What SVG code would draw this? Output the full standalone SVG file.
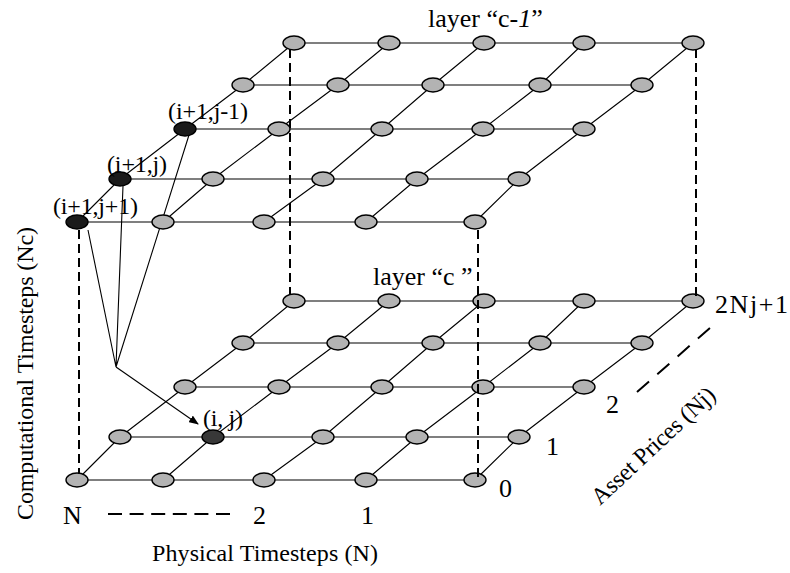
<svg xmlns="http://www.w3.org/2000/svg" width="790" height="573" viewBox="0 0 790 573">
<defs>
<style>
.n{fill:#b3b3b3;stroke:#000;stroke-width:1.4}
.d{fill:#1a1a1a;stroke:#000;stroke-width:1.4}
.dm{fill:#383838;stroke:#000;stroke-width:1.4}
.g{fill:none;stroke:#000;stroke-width:1.1}
.dash{fill:none;stroke:#000;stroke-width:2;stroke-dasharray:9 5}
.ax{fill:none;stroke:#000;stroke-width:2}
.a{fill:none;stroke:#000;stroke-width:1.1}
text{font-family:"Liberation Serif","Times New Roman",serif;fill:#000}
.t{font-size:24px}
.big{font-size:26px}
</style>
<marker id="ah" markerWidth="10" markerHeight="8" refX="9" refY="4" orient="auto" markerUnits="userSpaceOnUse">
<path d="M0,0 L10,4 L0,8 z" fill="#000"/>
</marker>
</defs>
<rect width="790" height="573" fill="#fff"/>
<g id="connectors">
<path class="g" d="M77,480H475 M120,437H519 M185,387H584 M243,343H642 M294,301H693"/>
<path class="g" d="M77,480L120,437L185,387L243,343L294,301 M163,480L213,437L279,387L338,343L389,301 M264,480L323,437L382,387L433,343L484,301 M366,480L417,437L483,387L540,343L584,301 M475,480L519,437L584,387L642,343L693,301"/>
<path class="g" d="M77,222H475 M120,179H519 M185,129H584 M243,85H642 M294,43H693"/>
<path class="g" d="M77,222L120,179L185,129L243,85L294,43 M163,222L213,179L279,129L338,85L389,43 M264,222L323,179L382,129L433,85L484,43 M366,222L417,179L483,129L540,85L584,43 M475,222L519,179L584,129L642,85L693,43"/>
<path class="a" d="M88,230L116,367 M123,186L116,367 M189,135L116,367"/>
<path class="a" d="M116,367L198,424" marker-end="url(#ah)"/>
</g>
<g id="nodes-layer-c">
<g id="c-0-0"><ellipse class="n" cx="77" cy="480" rx="11" ry="7"/></g>
<g id="c-0-1"><ellipse class="n" cx="163" cy="480" rx="11" ry="7"/></g>
<g id="c-0-2"><ellipse class="n" cx="264" cy="480" rx="11" ry="7"/></g>
<g id="c-0-3"><ellipse class="n" cx="366" cy="480" rx="11" ry="7"/></g>
<g id="c-0-4"><ellipse class="n" cx="475" cy="480" rx="11" ry="7"/></g>
<g id="c-1-0"><ellipse class="n" cx="120" cy="437" rx="11" ry="7"/></g>
<g id="c-1-1"><ellipse class="dm" cx="213" cy="437" rx="11" ry="7"/><text class="t" x="203" y="426" textLength="40">(i, j)</text></g>
<g id="c-1-2"><ellipse class="n" cx="323" cy="437" rx="11" ry="7"/></g>
<g id="c-1-3"><ellipse class="n" cx="417" cy="437" rx="11" ry="7"/></g>
<g id="c-1-4"><ellipse class="n" cx="519" cy="437" rx="11" ry="7"/></g>
<g id="c-2-0"><ellipse class="n" cx="185" cy="387" rx="11" ry="7"/></g>
<g id="c-2-1"><ellipse class="n" cx="279" cy="387" rx="11" ry="7"/></g>
<g id="c-2-2"><ellipse class="n" cx="382" cy="387" rx="11" ry="7"/></g>
<g id="c-2-3"><ellipse class="n" cx="483" cy="387" rx="11" ry="7"/></g>
<g id="c-2-4"><ellipse class="n" cx="584" cy="387" rx="11" ry="7"/></g>
<g id="c-3-0"><ellipse class="n" cx="243" cy="343" rx="11" ry="7"/></g>
<g id="c-3-1"><ellipse class="n" cx="338" cy="343" rx="11" ry="7"/></g>
<g id="c-3-2"><ellipse class="n" cx="433" cy="343" rx="11" ry="7"/></g>
<g id="c-3-3"><ellipse class="n" cx="540" cy="343" rx="11" ry="7"/></g>
<g id="c-3-4"><ellipse class="n" cx="642" cy="343" rx="11" ry="7"/></g>
<g id="c-4-0"><ellipse class="n" cx="294" cy="301" rx="11" ry="7"/></g>
<g id="c-4-1"><ellipse class="n" cx="389" cy="301" rx="11" ry="7"/></g>
<g id="c-4-2"><ellipse class="n" cx="484" cy="301" rx="11" ry="7"/></g>
<g id="c-4-3"><ellipse class="n" cx="584" cy="301" rx="11" ry="7"/></g>
<g id="c-4-4"><ellipse class="n" cx="693" cy="301" rx="11" ry="7"/></g>
</g>
<g id="nodes-layer-c-1">
<g id="p-0-0"><ellipse class="d" cx="77" cy="222" rx="11" ry="7"/><text class="t" x="53" y="214" textLength="85">(i+1,j+1)</text></g>
<g id="p-0-1"><ellipse class="n" cx="163" cy="222" rx="11" ry="7"/></g>
<g id="p-0-2"><ellipse class="n" cx="264" cy="222" rx="11" ry="7"/></g>
<g id="p-0-3"><ellipse class="n" cx="366" cy="222" rx="11" ry="7"/></g>
<g id="p-0-4"><ellipse class="n" cx="475" cy="222" rx="11" ry="7"/></g>
<g id="p-1-0"><ellipse class="d" cx="120" cy="179" rx="11" ry="7"/><text class="t" x="107" y="172" textLength="60">(i+1,j)</text></g>
<g id="p-1-1"><ellipse class="n" cx="213" cy="179" rx="11" ry="7"/></g>
<g id="p-1-2"><ellipse class="n" cx="323" cy="179" rx="11" ry="7"/></g>
<g id="p-1-3"><ellipse class="n" cx="417" cy="179" rx="11" ry="7"/></g>
<g id="p-1-4"><ellipse class="n" cx="519" cy="179" rx="11" ry="7"/></g>
<g id="p-2-0"><ellipse class="d" cx="185" cy="129" rx="11" ry="7"/><text class="t" x="168" y="119" textLength="80">(i+1,j-1)</text></g>
<g id="p-2-1"><ellipse class="n" cx="279" cy="129" rx="11" ry="7"/></g>
<g id="p-2-2"><ellipse class="n" cx="382" cy="129" rx="11" ry="7"/></g>
<g id="p-2-3"><ellipse class="n" cx="483" cy="129" rx="11" ry="7"/></g>
<g id="p-2-4"><ellipse class="n" cx="584" cy="129" rx="11" ry="7"/></g>
<g id="p-3-0"><ellipse class="n" cx="243" cy="85" rx="11" ry="7"/></g>
<g id="p-3-1"><ellipse class="n" cx="338" cy="85" rx="11" ry="7"/></g>
<g id="p-3-2"><ellipse class="n" cx="433" cy="85" rx="11" ry="7"/></g>
<g id="p-3-3"><ellipse class="n" cx="540" cy="85" rx="11" ry="7"/></g>
<g id="p-3-4"><ellipse class="n" cx="642" cy="85" rx="11" ry="7"/></g>
<g id="p-4-0"><ellipse class="n" cx="294" cy="43" rx="11" ry="7"/></g>
<g id="p-4-1"><ellipse class="n" cx="389" cy="43" rx="11" ry="7"/></g>
<g id="p-4-2"><ellipse class="n" cx="484" cy="43" rx="11" ry="7"/></g>
<g id="p-4-3"><ellipse class="n" cx="584" cy="43" rx="11" ry="7"/></g>
<g id="p-4-4"><ellipse class="n" cx="693" cy="43" rx="11" ry="7"/></g>
</g>
<g id="verticals">
<path class="dash" d="M79,230V474 M290,49V295 M478,230V477 M696,49V296"/>
</g>
<g id="labels">
<text class="big" x="428" y="27">layer “c-<tspan font-style="italic">1</tspan>”</text>
<text class="big" x="373" y="285">layer “c ”</text>
<text class="big" x="63" y="524">N</text>
<path class="ax" d="M108,514H230" stroke-dasharray="14 7.6"/>
<text class="big" x="253" y="524">2</text>
<text class="big" x="361" y="524">1</text>
<text class="t" x="152" y="561" textLength="226">Physical Timesteps (N)</text>
<text class="t" transform="translate(33,520) rotate(-90)" textLength="293">Computational Timesteps (Nc)</text>
<text class="big" x="499" y="497">0</text>
<text class="big" x="546" y="455">1</text>
<text class="big" x="606" y="413">2</text>
<text class="big" x="715" y="313" textLength="73">2Nj+1</text>
<path class="ax" d="M637,392L710,328" stroke-dasharray="16 11"/>
<text class="t" transform="translate(600,506) rotate(-43)" textLength="160">Asset Prices (Nj)</text>
</g>
</svg>
